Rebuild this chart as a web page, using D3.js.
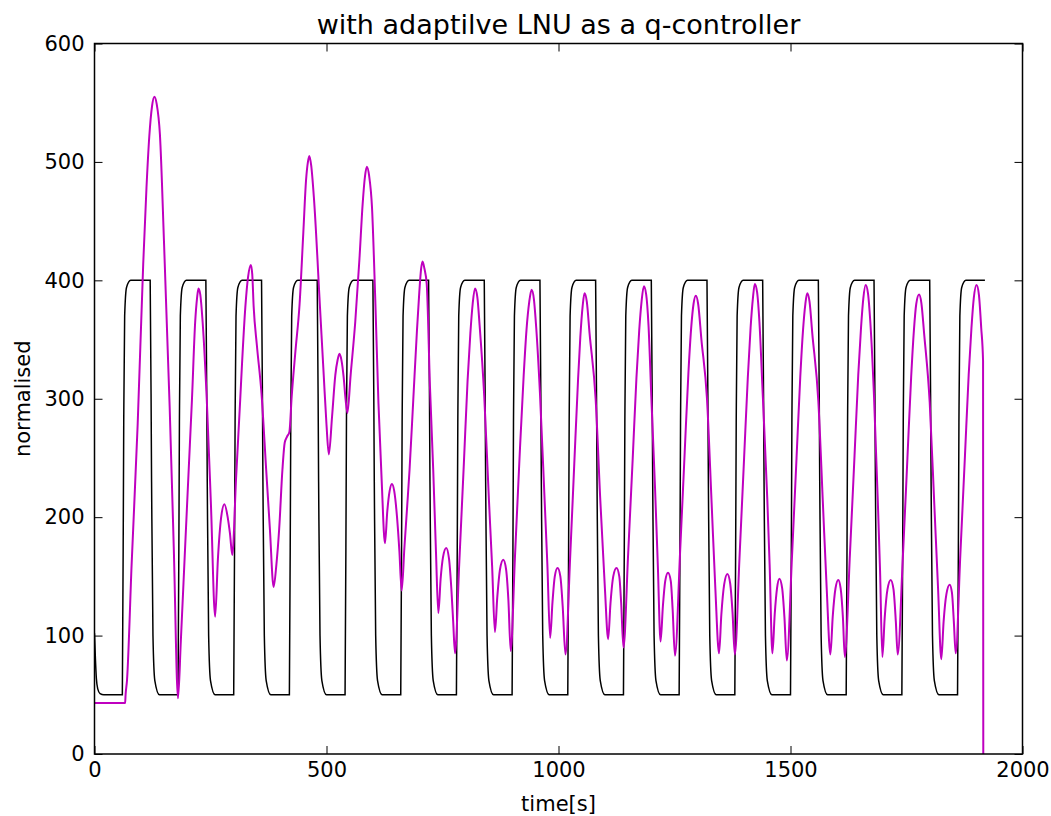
<!DOCTYPE html>
<html>
<head>
<meta charset="utf-8">
<script src="https://cdn.jsdelivr.net/npm/d3@7"></script>
<style>
    body { margin: 0; background: #fff; }
    text { font-family: "DejaVu Sans", sans-serif; fill: #000; }
</style>
</head>
<body>
<div id="chart"></div>
<script>
// chart texts
var title = "with adaptilve LNU as a q-controller";
var xLabel = "time[s]";
var yLabel = "normalised";
var xTicks = [0, 500, 1000, 1500, 2000];
var yTicks = [0, 100, 200, 300, 400, 500, 600];

// desired value (black square wave), [time, value]
var setpoint = [
    [0,102],[2,80],[4,64],[7,55],[12,51],[20,50],
    [60,50],[63,280],[65,370],[69,394],[78,400],[120,400],[123,230],[126,100],[130,62],[140,50],
    [180,50],[183,280],[185,370],[189,394],[198,400],[240,400],[243,230],[246,100],[250,62],[260,50],
    [300,50],[303,280],[305,370],[309,394],[318,400],[360,400],[363,230],[366,100],[370,62],[380,50],
    [420,50],[423,280],[425,370],[429,394],[438,400],[480,400],[483,230],[486,100],[490,62],[500,50],
    [540,50],[543,280],[545,370],[549,394],[558,400],[600,400],[603,230],[606,100],[610,62],[620,50],
    [660,50],[663,280],[665,370],[669,394],[678,400],[720,400],[723,230],[726,100],[730,62],[740,50],
    [780,50],[783,280],[785,370],[789,394],[798,400],[840,400],[843,230],[846,100],[850,62],[860,50],
    [900,50],[903,280],[905,370],[909,394],[918,400],[960,400],[963,230],[966,100],[970,62],[980,50],
    [1020,50],[1023,280],[1025,370],[1029,394],[1038,400],[1080,400],[1083,230],[1086,100],[1090,62],[1100,50],
    [1140,50],[1143,280],[1145,370],[1149,394],[1158,400],[1200,400],[1203,230],[1206,100],[1210,62],[1220,50],
    [1260,50],[1263,280],[1265,370],[1269,394],[1278,400],[1320,400],[1323,230],[1326,100],[1330,62],[1340,50],
    [1380,50],[1383,280],[1385,370],[1389,394],[1398,400],[1440,400],[1443,230],[1446,100],[1450,62],[1460,50],
    [1500,50],[1503,280],[1505,370],[1509,394],[1518,400],[1560,400],[1563,230],[1566,100],[1570,62],[1580,50],
    [1620,50],[1623,280],[1625,370],[1629,394],[1638,400],[1680,400],[1683,230],[1686,100],[1690,62],[1700,50],
    [1740,50],[1743,280],[1745,370],[1749,394],[1758,400],[1800,400],[1803,230],[1806,100],[1810,62],[1820,50],
    [1860,50],[1863,280],[1865,370],[1869,394],[1878,400],[1919,400]
];

// plant output (magenta), [time, value]
var output = [
    [0,43],[66,43],[67,50],[70,62],[80,160],[93,278],[105,414],[112,478],[118,521],[124,547],[129,555],
    [134,549],[141,523],[150,430],[162,293],[171,172],[180,47],
    [186,95],[195,172],[203,240],[210,299],[217,365],[221,385],[224,393],[228,388],[233,365],[242,299],[251,210],[260,116],
    [266,165],[273,200],[280,211],[287,200],[292,186],[297,168],
    [305,232],[314,299],[318,330],[325,377],[331,403],[337,413],[340,405],[343,378],[350,345],[360,304],[370,240],[378,190],[386,141],
    [392,160],[398,190],[405,240],[410,263],[415,268],[420,272],[425,302],[433,340],[442,380],[450,440],[456,485],[460,500],[463,505],
    [467,497],[473,469],[486,377],[494,320],[500,278],[505,253],
    [512,285],[519,320],[524,333],[528,338],[532,333],[537,318],[541,300],[545,288],
    [552,320],[562,365],[571,418],[578,465],[583,488],[587,496],[592,488],[598,462],[605,385],[612,296],[619,230],[626,178],
    [631,205],[636,222],[641,228],[646,222],[652,200],[657,172],[662,138],
    [668,175],[674,210],[679,240],[687,299],[695,358],[700,390],[704,410],[707,416],[711,410],[716,397],[723,310],[730,240],[736,170],[741,119],
    [746,148],[751,166],[758,174],[764,165],[769,140],[773,112],[777,85],
    [786,160],[796,245],[804,315],[810,355],[815,380],[820,393],[825,386],[830,362],[840,302],[850,215],[857,158],[863,103],
    [868,132],[874,156],[881,164],[887,156],[892,130],[897,87],
    [906,165],[916,250],[925,320],[931,358],[937,382],[942,392],[947,384],[952,360],[960,305],[970,215],[976,160],[982,98],
    [987,128],[992,150],[998,157],[1004,150],[1009,125],[1015,84],
    [1025,165],[1034,245],[1042,315],[1047,352],[1052,378],[1056,389],[1061,382],[1067,355],[1080,300],[1090,215],[1100,140],[1107,97],
    [1112,127],[1118,150],[1125,157],[1131,150],[1135,128],[1140,90],
    [1150,168],[1160,250],[1168,318],[1174,358],[1179,382],[1184,395],[1189,388],[1194,362],[1200,302],[1208,225],[1214,160],[1220,95],
    [1225,125],[1230,146],[1236,153],[1242,146],[1246,122],[1251,83],
    [1262,170],[1272,255],[1280,322],[1286,360],[1291,380],[1296,387],[1301,380],[1308,350],[1320,300],[1330,212],[1338,140],[1346,85],
    [1351,118],[1357,143],[1364,152],[1370,144],[1375,120],[1380,84],
    [1390,165],[1400,250],[1408,318],[1414,360],[1419,385],[1423,397],[1428,390],[1433,365],[1440,305],[1450,215],[1455,160],[1461,85],
    [1466,118],[1471,140],[1476,148],[1482,140],[1487,115],[1492,79],
    [1503,165],[1513,250],[1521,318],[1527,358],[1532,380],[1536,389],[1541,382],[1547,355],[1560,298],[1570,210],[1578,140],[1586,84],
    [1591,116],[1597,140],[1603,147],[1608,140],[1613,115],[1617,82],
    [1628,168],[1638,252],[1646,320],[1652,360],[1657,385],[1662,396],[1667,389],[1672,365],[1680,302],[1688,215],[1693,155],[1698,82],
    [1703,115],[1709,139],[1716,147],[1722,139],[1727,112],[1731,84],
    [1742,165],[1752,250],[1760,318],[1766,358],[1771,380],[1777,388],[1782,381],[1788,355],[1800,297],[1810,210],[1818,140],[1825,80],
    [1830,112],[1836,135],[1843,143],[1848,136],[1852,112],[1856,85],
    [1866,168],[1876,252],[1884,320],[1890,360],[1895,385],[1901,396],[1906,388],[1911,360],[1915,332],[1915.5,0]
];

var width = 1051, height = 816;
var plot = {left: 94.5, right: 1022.5, top: 43.5, bottom: 754};

var svg = d3.select('#chart').append('svg')
    .attr('width', width)
    .attr('height', height);

var x = d3.scaleLinear().domain([0, 2000]).range([plot.left, plot.right]);
var y = d3.scaleLinear().domain([0, 600]).range([plot.bottom, plot.top]);

svg.append('clipPath').attr('id', 'clip')
    .append('rect')
    .attr('x', plot.left).attr('y', plot.top)
    .attr('width', plot.right - plot.left)
    .attr('height', plot.bottom - plot.top);

var line = d3.line()
    .x(d => x(d[0]))
    .y(d => y(d[1]))
    .curve(d3.curveMonotoneX);

var lines = svg.append('g').attr('clip-path', 'url(#clip)');

lines.append('path')
    .datum(setpoint)
    .attr('fill', 'none')
    .attr('stroke', '#000')
    .attr('stroke-width', 1.5)
    .attr('d', line);

lines.append('path')
    .datum(output)
    .attr('fill', 'none')
    .attr('stroke', '#bf00bf')
    .attr('stroke-width', 2)
    .attr('stroke-linejoin', 'round')
    .attr('d', line);

// axes, matplotlib classic style: ticks inward on all four sides
var tickLen = 8;
var fmt = d3.format('d');
var xBottom = d3.axisBottom(x).tickValues(xTicks).tickFormat(fmt).tickSizeInner(-tickLen).tickSizeOuter(0).tickPadding(8);
var xTop = d3.axisTop(x).tickValues(xTicks).tickSizeInner(-tickLen).tickSizeOuter(0).tickFormat('');
var yLeft = d3.axisLeft(y).tickValues(yTicks).tickFormat(fmt).tickSizeInner(-tickLen).tickSizeOuter(0).tickPadding(10);
var yRight = d3.axisRight(y).tickValues(yTicks).tickSizeInner(-tickLen).tickSizeOuter(0).tickFormat('');

function styleAxis(g) {
    g.select('.domain').remove();
    g.selectAll('.tick line').attr('stroke', '#000').attr('stroke-width', 1);
    g.selectAll('.tick text').style('font-size', '21px').attr('fill', '#000');
}

svg.append('g').attr('transform', 'translate(0,' + plot.bottom + ')').call(xBottom).call(styleAxis);
svg.append('g').attr('transform', 'translate(0,' + plot.top + ')').call(xTop).call(styleAxis);
svg.append('g').attr('transform', 'translate(' + plot.left + ',0)').call(yLeft).call(styleAxis);
svg.append('g').attr('transform', 'translate(' + plot.right + ',0)').call(yRight).call(styleAxis);

// frame
svg.append('rect')
    .attr('x', plot.left).attr('y', plot.top)
    .attr('width', plot.right - plot.left)
    .attr('height', plot.bottom - plot.top)
    .attr('fill', 'none')
    .attr('stroke', '#000')
    .attr('stroke-width', 1.5);

svg.append('text')
    .attr('x', (plot.left + plot.right) / 2)
    .attr('y', 34)
    .attr('text-anchor', 'middle')
    .style('font-size', '27px')
    .text(title);

svg.append('text')
    .attr('x', (plot.left + plot.right) / 2)
    .attr('y', 811)
    .attr('text-anchor', 'middle')
    .style('font-size', '21px')
    .text(xLabel);

svg.append('text')
    .attr('transform', 'translate(30,' + ((plot.top + plot.bottom) / 2) + ') rotate(-90)')
    .attr('text-anchor', 'middle')
    .style('font-size', '21px')
    .text(yLabel);
</script>
</body>
</html>
